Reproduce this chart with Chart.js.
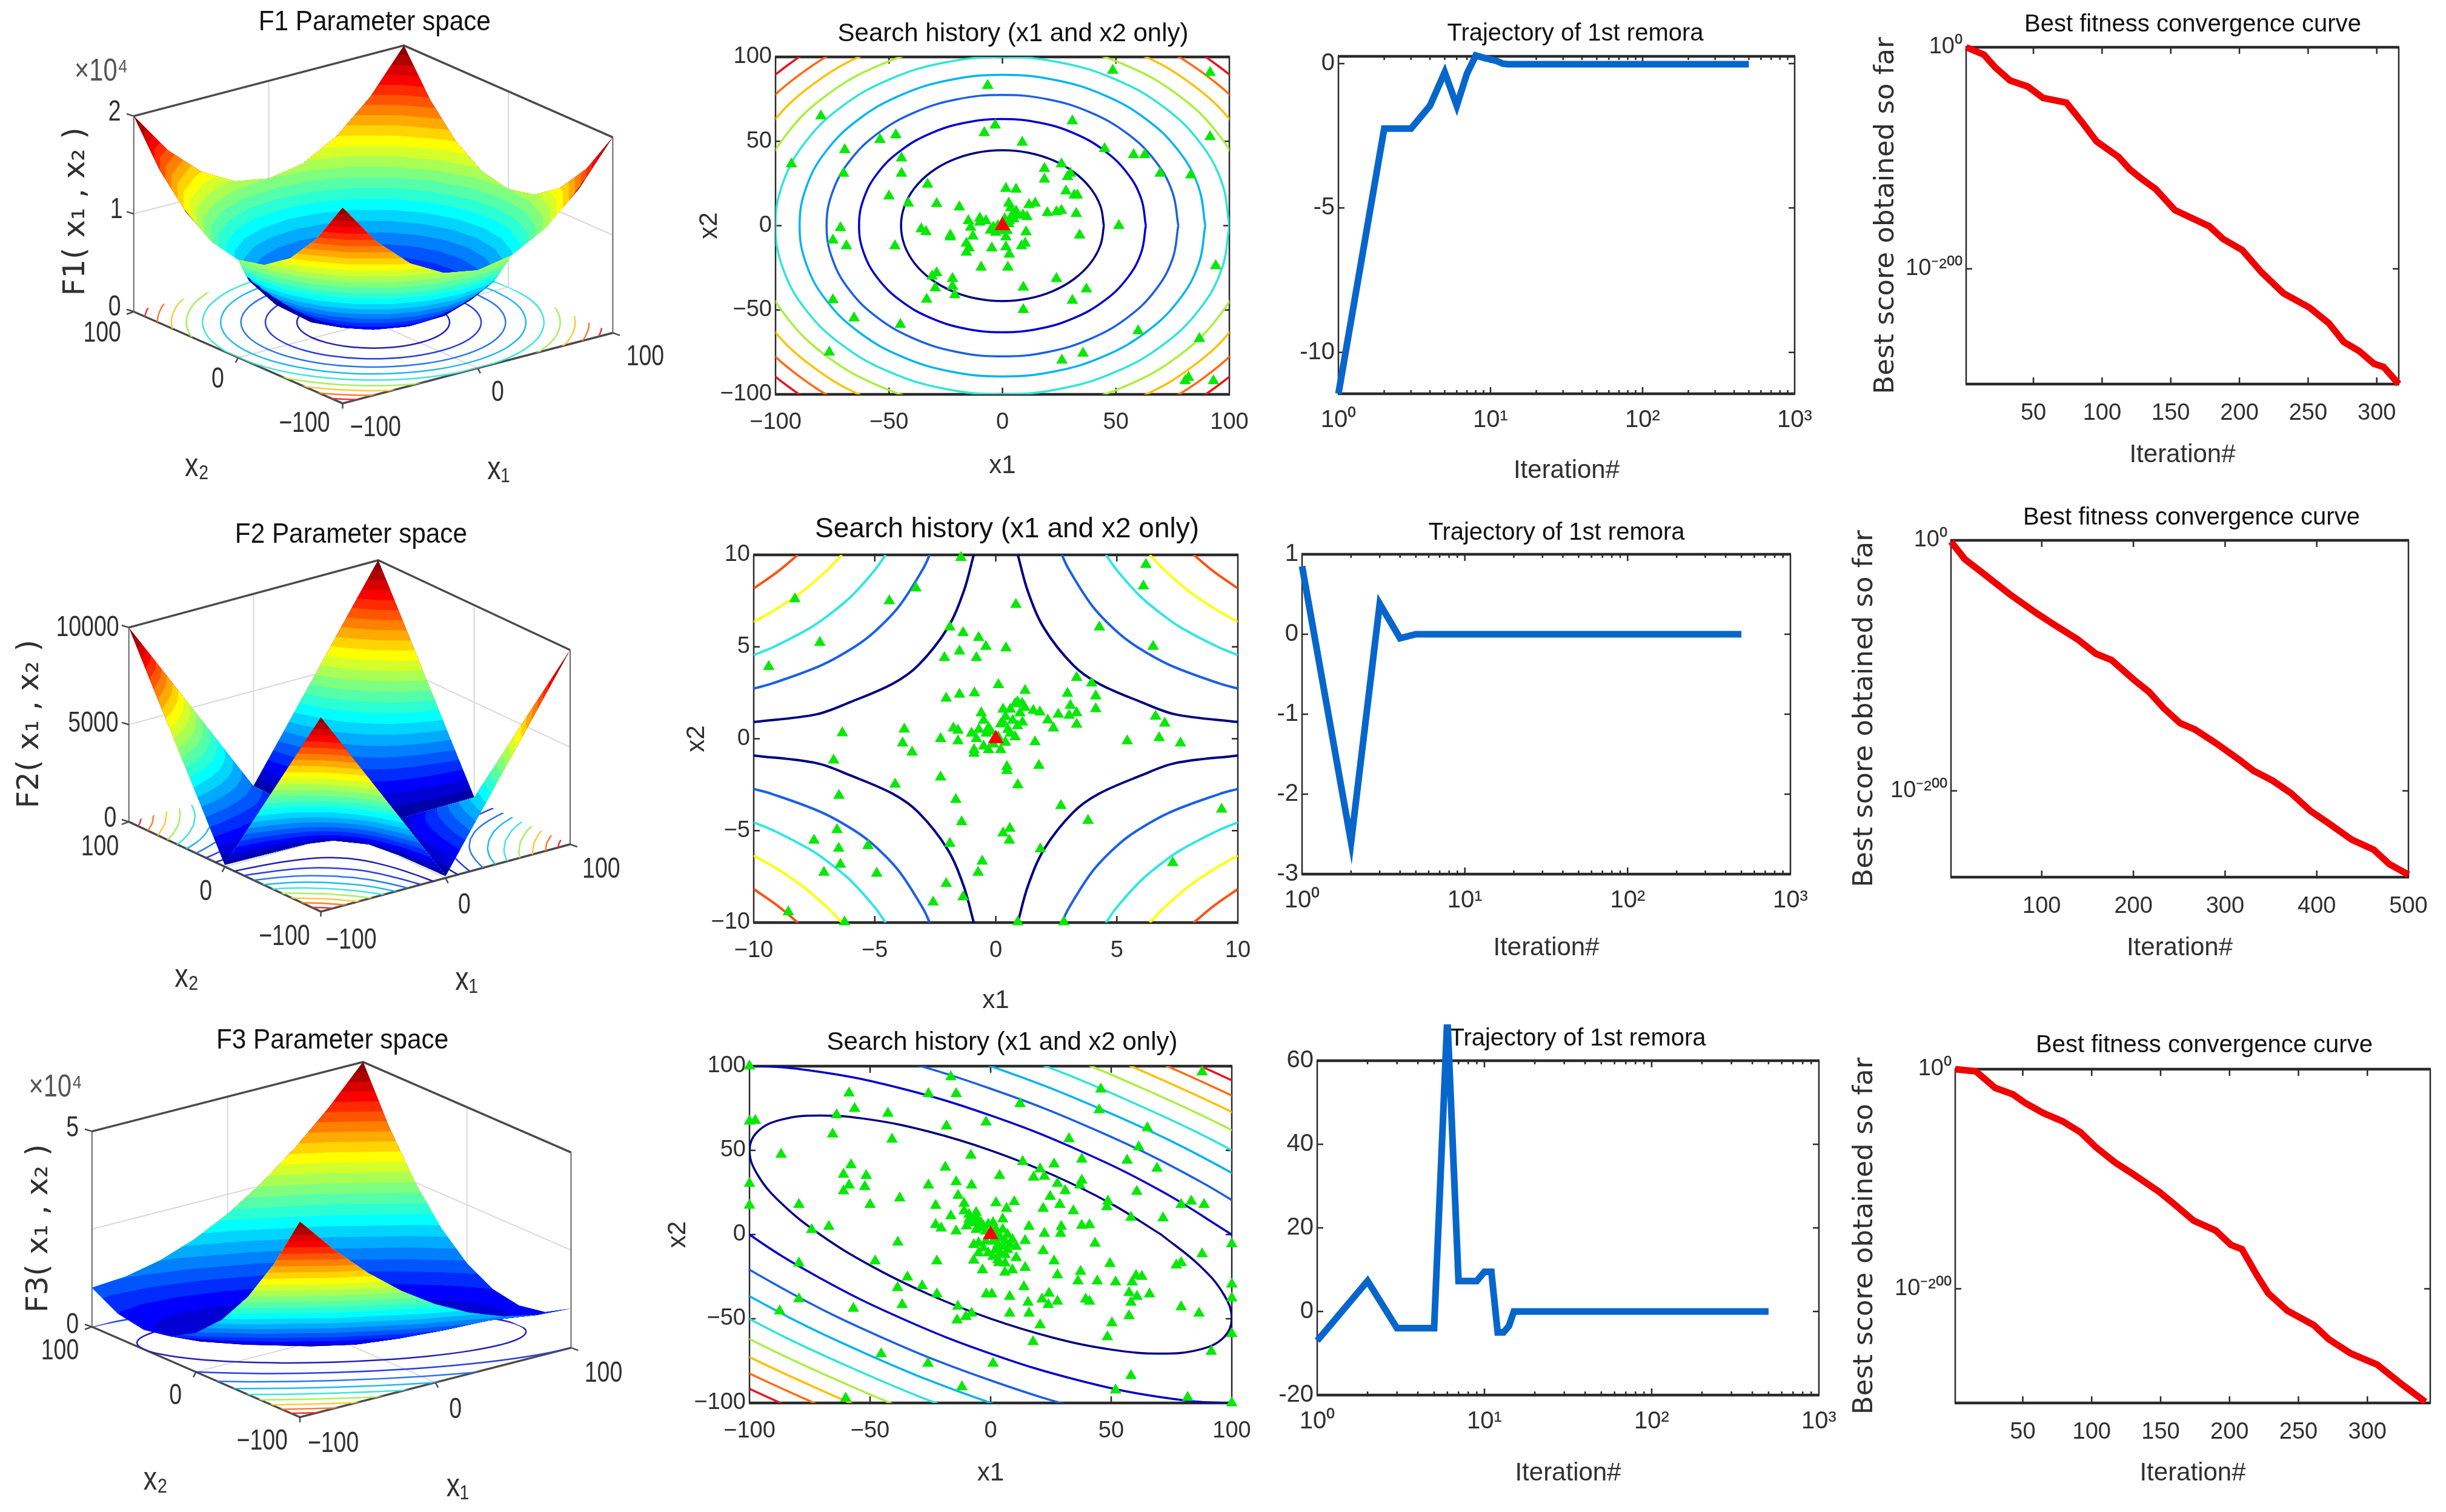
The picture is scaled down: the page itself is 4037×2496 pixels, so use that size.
<!DOCTYPE html>
<html>
<head>
<meta charset="utf-8">
<title>Parameter space, search history, trajectory, convergence</title>
<script src="https://cdn.jsdelivr.net/npm/chart.js@4/dist/chart.umd.js"></script>
<style>
html, body { margin: 0; padding: 0; background: #fff; overflow: hidden; width: 4037px; height: 2496px; }
canvas { position: absolute; }
</style>
</head>
<body>
<script>
// ---------- values ----------

// colour bands of the surfaces, highest level first
const jetBands = ['#8c0000','#b00000','#d80000','#fb0000','#ff2a00','#ff5500','#ff7f00','#ffaa00','#ffd400','#ffff00','#d4ff2b','#aaff55','#7fff80','#55ffaa','#2bffd4','#00ffff','#00d4ff','#00aaff','#007fff','#0055ff','#002bff','#0000ff','#0000d4','#0000aa'];
const contourColors = ['#000080','#0000cd','#1a5fe6','#00b4f0','#2ee6d6','#a8f03c','#ffc000','#ff6a10','#e8141c'];
const f2ContourColors = ['#000080','#1a5fe6','#2ee6e6','#ffff00','#ff5014'];
const floorColors = ['#2020b0','#2a3fe0','#2a78ea','#20b8f0','#40e6d6','#a8f05c','#ffc83c','#ff7a30','#e8343c'];

// one turn, every 15 degrees
const ringA = [1,.966,.866,.707,.5,.259,0,-.259,-.5,-.707,-.866,-.966,-1,-.966,-.866,-.707,-.5,-.259,0,.259,.5,.707,.866,.966,1];
const ringB = [0,.259,.5,.707,.866,.966,1,.966,.866,.707,.5,.259,0,-.259,-.5,-.707,-.866,-.966,-1,-.966,-.866,-.707,-.5,-.259,0];
// branch used for the F2 level curves
const arcU = [10,6,4,3,2.2,1.7,1.4,1.2,1.08,1,.93,.83,.71,.59,.45,.33,.25,.17,.1];
const arcV = [.1,.17,.25,.33,.45,.59,.71,.83,.93,1,1.08,1.2,1.4,1.7,2.2,3,4,6,10];

const f1BandZ = [20000,19167,18333,17500,16667,15833,15000,14167,13333,12500,11667,10833,10000,9167,8333,7500,6667,5833,5000,4167,3333,2500,1667,833];
const f1BandR = [141.4,138.4,135.4,132.3,129.1,125.8,122.5,119,115.5,111.8,108,104.1,100,95.7,91.3,86.6,81.6,76.4,70.7,64.5,57.7,50,40.8,28.9];
const f2BandZ = [10000,9583,9167,8750,8333,7917,7500,7083,6667,6250,5833,5417,5000,4583,4167,3750,3333,2917,2500,2083,1667,1250,833,417];
const f2BandS = [100,97.9,95.7,93.5,91.3,89,86.6,84.2,81.6,79.1,76.4,73.6,70.7,67.7,64.5,61.2,57.7,54,50,45.6,40.8,35.4,28.9,20.4];
const f3BandZ = [50000,47917,45833,43750,41667,39583,37500,35417,33333,31250,29167,27083,25000,22917,20833,18750,16667,14583,12500,10417,8333,6250,4167,2083];
const f3BandR = [223.6,218.9,214,209.2,204.1,198.9,193.6,188.2,182.6,176.8,170.8,164.6,158.1,151.4,144.3,136.9,129.1,120.8,111.8,102.1,91.3,79.1,64.5,45.6];

const f1ContourR = [44.7,63.2,77.5,89.4,100,109.5,118.3,126.5,134.2];
const f2FloorS = [31.6,44.7,54.8,63.2,70.7,77.5,83.7,89.4,94.9];
const f3ContourR = [70.7,100,122.5,141.4,158.1,173.2,187.1,200,212.1];

// surface heights along the box edges
const rimT = [-100,-75,-50,-25,0,25,50,75,100];
const f1RimZ = [20000,15625,12500,10625,10000,10625,12500,15625,20000];
const f3RimX2Top = [10000,10625,12500,15625,20000,25625,32500,40625,50000];
const f3RimX1Top = [10000,6250,5000,6250,10000,16250,25000,36250,50000];
const f3RimX1Low = [50000,36250,25000,16250,10000,6250,5000,6250,10000];
const f3RimX2Low = [50000,40625,32500,25625,20000,15625,12500,10625,10000];

// F2 contour lines in the search plot, one quadrant, level by level
const f2LevelX1 = [
  [.91,1.33,2,3.2,4.25,6,7.4,10],
  [2.73,3,4,5,5.83,7.2,9.25,10],
  [4.55,5,6,7,7.71,9.17,10],
  [6.36,7,8,9.13,10],
  [8.18,9,10]
];
const f2LevelX2 = [
  [10,8,6,4,3,2,1.33,.91],
  [10,9.25,7.2,5.83,5,4,3,2.73],
  [10,9.17,7.71,6.63,6,5,4.55],
  [10,9.13,8,7,6.36],
  [10,9.1,8.18]
];

const searchF1 = [[48.6,92],[91.5,90.7],[-6.5,83],[-80,65],[30.8,62],[-3.2,59.5],[-8,55],[91.5,52.7],[-47,53.8],[-54,51],[8.7,49.4],[-69.5,45],[45,45.6],[57.8,42],[62.7,42],[-44.5,40],[-93,36.5],[26,36.5],[18.5,33.8],[-70,31],[-44.5,31],[69.5,31],[30,31],[28.7,29],[83,30],[18.5,27.5],[-33,24.5],[1.5,22],[6,21.5],[28,20.5],[31.6,18],[33,18],[-50,17.5],[-41.5,13.3],[-29,13],[-19,11],[2.8,13.3],[14.4,13.3],[11.7,12.4],[3.6,10.5],[6,8.5],[19.8,7.6],[26,9],[23.8,8.2],[32.5,7.2],[10.8,5.3],[9,6.3],[4.4,6.6],[-15,2.9],[-10,4.4],[-7.3,2.9],[-14,-1],[-10,2],[-5.3,-2.8],[1,-1.9],[2.8,1],[51.3,0],[-71.4,-1.3],[-35.8,-2],[-33.7,-3.6],[-23,-5.7],[-23,-6.7],[-13,-6.3],[1.5,-6.7],[10.4,-3.8],[34,-5.7],[-74.7,-8.6],[-68.8,-12],[-47.4,-12],[-15.9,-10.5],[-14.7,-13.3],[-4.7,-13.3],[1.5,-12.7],[8.4,-12],[10,-10.5],[-15.9,-15.8],[3,-17],[94,-23.8],[-9.4,-24.7],[2.4,-24.7],[-29,-28],[-31,-30],[-22,-31.4],[-22,-36],[23.8,-31.4],[-29.6,-37],[9.2,-36.5],[37,-37.6],[-21,-41],[-33.4,-43.7],[-74.7,-44],[30.8,-44.3],[9.2,-49.8],[-65.4,-54.8],[-45,-58.6],[59.8,-62.4],[86.8,-67],[-76.3,-75],[35.5,-75.7],[26.2,-79.8],[82,-90],[80.5,-92],[93,-92],[-3,-4],[-1,-3],[2,-3],[3,3],[5,4],[7,6],[-2,0],[-4,-1],[1,4]];

const searchF2 = [[-1.44,9.85],[6.2,9.47],[6.1,8.3],[-3.3,8.2],[-8.3,7.6],[-4.4,7.5],[.83,7.3],[4.28,6.07],[-1.9,6.07],[-1.35,5.77],[-.71,5.5],[-7.27,5.23],[-.41,5.02],[6.5,5.02],[.42,4.93],[-1.5,4.76],[-2.12,4.41],[-.8,4.41],[-9.38,3.92],[3.34,3.33],[3.96,3.02],[.11,2.93],[1.21,2.62],[-.88,2.49],[-1.5,2.41],[2.96,2.46],[4.13,2.32],[-2.05,2.2],[3.08,1.8],[1.09,1.92],[4.13,1.62],[1.55,1.53],[1.82,1.45],[2.58,1.33],[3.34,1.41],[3.03,1.27],[6.6,1.22],[2.15,1.01],[3.34,.78],[6.98,.84],[2.38,.58],[-3.78,.52],[-6.34,.31],[-1.75,.58],[-1.56,.45],[-2.28,0],[-1.56,-.12],[6.75,.05],[5.43,-.12],[7.63,-.24],[-3.85,-.24],[1.62,-.17],[-3.46,-.73],[-6.7,-1.17],[1.78,-1.46],[.46,-1.52],[.46,-1.74],[-2.28,-2.09],[.91,-2.51],[-4.16,-2.48],[-6.48,-3.09],[-1.65,-3.31],[2.69,-3.64],[9.33,-3.84],[-1.41,-4.52],[3.81,-4.45],[.58,-4.88],[.3,-5.13],[-6.56,-4.95],[-7.51,-5.53],[.56,-5.53],[-1.9,-5.7],[-5.28,-5.82],[-6.49,-5.96],[1.84,-6],[7.31,-6.75],[-.56,-6.66],[-6.42,-6.84],[-7.1,-7.27],[-4.92,-7.32],[-.73,-7.27],[-2.05,-7.88],[-1.35,-8.61],[-2.59,-8.89],[-8.57,-9.42],[-6.25,-9.97],[.91,-9.97],[2.81,-9.97],[.2,.8],[.4,1.2],[.6,1.6],[.8,1.9],[1,1.4],[.5,.5],[.7,1],[.9,.7],[1.1,.9],[.3,1.6],[-.3,.6],[-.5,1],[-.6,1.4],[-.4,.3],[-.2,.4],[.1,.1],[-.7,.5],[-1,.3],[-.8,0],[-.5,-.4],[-.9,-.6],[-.3,-.6],[.2,-.6],[.4,-.2],[-.1,-.3],[.8,.1],[.3,.9],[.6,.3],[1.2,1.7],[.9,2],[-.9,-.8]];

const searchF3 = [[-100,100],[-16.5,93.6],[87.7,96.5],[45.7,86.3],[-58.7,84],[-25.8,83.6],[-14.3,83.6],[12.2,77.7],[-56.4,74.8],[45,74],[-63.9,71],[-42.6,71.9],[-100,67.3],[-97.6,67.7],[-1.9,66.7],[-18.3,64.4],[65,63.3],[-65.5,59.6],[-40.9,56.6],[32.5,56.8],[61.4,52],[-86.9,47.6],[-8.2,47],[13.3,43.3],[37.8,44.7],[56.6,44.1],[-57.9,41.4],[-18.8,39.9],[20.5,38.9],[26.3,41.8],[69,39.3],[-61,35.7],[-51.6,35],[3.7,35],[17.8,34],[22.3,34.5],[37.8,32.2],[-100,30.3],[-14.3,31.3],[-25.8,29.3],[-7.9,29.3],[27.7,30.3],[-58.7,29.3],[-52.2,28.4],[37,29.3],[-61,25.9],[30.9,26],[60.6,25.5],[-13.5,23.2],[24.7,22.6],[-37.7,21.7],[48.6,19.8],[83.2,19.8],[-100,17.4],[-79.5,17.8],[-50,17.8],[-22.8,17.3],[-11,18.4],[2.2,18.8],[9.8,19.4],[28.7,17.8],[79,17.8],[88.5,17.8],[48.2,16.5],[21.8,15.5],[6.6,15.5],[34.3,14],[-16.5,11.1],[58.2,10.2],[71.5,9.8],[5,9.2],[-22.8,5.9],[-67.1,4.8],[-74.2,2.9],[-20.5,3.8],[-14.3,2.1],[15.9,4.8],[29.3,4.8],[37.8,5.4],[41,5.8],[22.3,.6],[29,.6],[100,-5.6],[-38.5,-4.6],[14.3,-3.6],[43.3,-5.2],[21.8,-9.6],[87.7,-11.5],[10.6,-7.1],[10.6,-13.8],[-7,-15.3],[-22.3,-15.7],[-47.9,-15.7],[-79.5,-17],[26.3,-15.7],[49.5,-17.3],[77,-18.2],[79,-16.7],[3.4,-16.7],[14.3,-19.6],[9,-21],[-3.4,-21],[5.9,-22.4],[27.7,-24],[37.3,-21.9],[-34.5,-25.3],[60.3,-24.4],[62.7,-24.9],[36.2,-27.6],[44.2,-27.6],[51.8,-28.2],[58.7,-28.2],[-28.4,-30.5],[-38.6,-31.6],[13.8,-31],[100,-29.5],[57.4,-34.5],[65.9,-35.3],[-1.8,-35.3],[.5,-35.3],[-22.3,-35.3],[7.9,-36.8],[24.2,-34.9],[21.3,-38.4],[27.7,-39.7],[39.4,-38.4],[41,-39.7],[60.7,-36.8],[100,-37.8],[-79.5,-38.2],[15.5,-40.3],[58.2,-40.3],[23.9,-41.6],[-36.7,-41.6],[-13.6,-42.6],[-56.9,-43.9],[79,-43],[-87.5,-45.4],[-7.9,-46.8],[7.9,-46.8],[15.9,-46.8],[-10.3,-48.7],[57.4,-48.3],[86.4,-46.8],[-13.9,-50.8],[50.3,-52.5],[20.5,-53.7],[100,-58.9],[48.4,-60.8],[17.6,-63.7],[91.5,-69.4],[-45.4,-70.9],[-26,-76.5],[1,-76.5],[58.2,-83.8],[-11.9,-90.5],[51.8,-92.4],[-60.1,-97.2],[81.7,-96.8],[100,-100],[-7,10],[-6,9],[-5,8],[-4,7],[-8,7],[-9,12],[-6,13],[-3,5],[-4,4],[-6,3],[-2,2],[2,3],[3,1],[4,-2],[1,-4],[3,-6],[5,-7],[6,-4],[7,-9],[2,-9],[4,-11],[-2,-4],[-3,-8],[-5,-11],[-1,-11],[1,-13],[6,-12],[8,-6],[9,-3],[7,0],[5,3],[-1,6],[1,7],[-9,9],[-11,14],[-10,5],[-7,-6],[-5,-5],[3,-15],[6,-17]];

const trajF1Iter = [1,2,3,4,5,6,7,8,9,10,11,12,13,15,20,500];
const trajF1Value = [-11.43,-2.25,-2.25,-1.46,-.3,-1.46,-.35,.28,.2,.14,.09,0,-.02,-.02,-.02,-.02];
const trajF2Iter = [1,2,3,4,5,6,8,20,500];
const trajF2Value = [.85,-2.6,.38,-.05,0,0,0,0,0];
const trajF3Iter = [1,2,3,4,5,6,7,8,9,10,11,12,13,14,15,20,500];
const trajF3Value = [-7,7.3,-4,-4,-4,70.5,7.3,7.3,7.3,9.5,9.5,-5,-5,-3.5,0,0,0];

const convF1Iter = [1,14,22,33,46,57,74,85,96,112,120,128,139,153,178,188,202,216,232,251,265,276,287,298,305,316];
const convF1Score = [1,2e-7,1e-18,1e-30,3e-36,2e-46,1e-50,1e-67,1e-85,1e-99,1e-110,1e-118,1e-128,1e-147,3e-162,1e-173,1e-183,1e-203,1e-222,1e-235,1e-249,1e-266,1e-274,2e-286,3e-289,1e-304];
const convF2Iter = [1,16,32,65,94,114,139,159,176,200,217,233,251,267,290,315,331,352,372,393,413,438,462,479,500];
const convF2Score = [1e-1,1e-15,1e-24,1e-43,1e-58,3e-68,1e-79,3e-91,3e-96,1e-111,1e-121,1e-134,1e-146,1e-151,1e-162,1e-175,1e-184,1e-192,1e-202,1e-216,1e-226,1e-239,1e-247,3e-259,1e-267];
const convF3Iter = [1,16,30,43,52,65,79,92,103,117,130,149,160,174,190,201,209,220,228,242,261,272,288,307,326,342];
const convF3Score = [1,1e-2,1e-17,1e-23,1e-31,1e-40,3e-48,3e-58,1e-71,1e-85,3e-96,2e-112,1e-123,1e-138,1e-147,1e-160,1e-164,1e-188,1e-204,1e-220,1e-233,1e-246,1e-259,1e-269,1e-288,1e-303];

const searchF1Ticks = [-100,-50,0,50,100];
const searchF2Ticks = [-10,-5,0,5,10];
const trajXTicks = [1,10,100,1000];
const trajXMinor = [2,3,4,5,6,7,8,9,20,30,40,50,60,70,80,90,200,300,400,500,600,700,800,900];
const trajF1YTicks = [0,-5,-10];
const trajF2YTicks = [1,0,-1,-2,-3];
const trajF3YTicks = [60,40,20,0,-20];
const convYTicks = [1,1e-200];
const convF1XTicks = [50,100,150,200,250,300];
const convF2XTicks = [100,200,300,400,500];

const powerLabels = {1:'10\u2070',10:'10\u00b9',100:'10\u00b2',1000:'10\u00b3'};
const inkColor = '#2a2a2a';
const tickInk = '#303030';
const sansFont = '"Liberation Sans", Arial, sans-serif';
const wideFont = '"DejaVu Sans", sans-serif';

// ---------- small helpers ----------

function addCanvas(left, top, width, height) {
    const canvas = document.createElement('canvas');
    canvas.width = width;
    canvas.height = height;
    canvas.style.left = left + 'px';
    canvas.style.top = top + 'px';
    canvas.style.width = width + 'px';
    canvas.style.height = height + 'px';
    document.body.appendChild(canvas);
    return canvas;
}

function pairsToPoints(pairs) { return pairs.map(p => ({ x: p[0], y: p[1] })); }
function zipPoints(xs, ys) { return xs.map((x, i) => ({ x: x, y: ys[i] })); }

// inward ticks and the box, MATLAB style
function axesFrame(cfg) {
    return {
        id: 'axesFrame',
        afterLayout(chart) {
            if (chart.titleBlock && cfg.titleShift) {
                chart.titleBlock.left += cfg.titleShift;
                chart.titleBlock.right += cfg.titleShift;
            }
        },
        beforeDatasetsDraw(chart) {
            const { left, right, top, bottom } = chart.chartArea;
            const ctx = chart.ctx;
            ctx.save();
            ctx.strokeStyle = inkColor;
            ctx.lineWidth = 2.5;
            ctx.beginPath();
            ctx.moveTo(left, top); ctx.lineTo(left, bottom);
            ctx.moveTo(right, top); ctx.lineTo(right, bottom);
            const sides = (px, len) => {
                ctx.moveTo(px, top); ctx.lineTo(px, top + len);
                ctx.moveTo(px, bottom); ctx.lineTo(px, bottom - len);
            };
            cfg.xTicks.forEach(v => sides(chart.scales.x.getPixelForValue(v), 11));
            (cfg.xMinor || []).forEach(v => sides(chart.scales.x.getPixelForValue(v), 6));
            cfg.yTicks.forEach(v => {
                const py = chart.scales.y.getPixelForValue(v);
                ctx.moveTo(left, py); ctx.lineTo(left + 10, py);
                ctx.moveTo(right, py); ctx.lineTo(right - 10, py);
            });
            ctx.stroke();
            ctx.lineWidth = 4.5;
            ctx.beginPath();
            ctx.moveTo(left - 1, top); ctx.lineTo(right + 1, top);
            ctx.moveTo(left - 1, bottom); ctx.lineTo(right + 1, bottom);
            ctx.stroke();
            ctx.restore();
        }
    };
}

function axesChart(cfg) {
    const box = cfg.box;
    const titleSize = cfg.titleSize || 42;
    const xTitleSize = cfg.xTitleSize || 42;
    const yFont = cfg.yTitleFont || sansFont;
    const ySize = cfg.yTitleSize || 42;
    const canvasLeft = cfg.yTitleX ? Math.round(cfg.yTitleX - 0.6 * ySize) : box[0] - 90;
    const canvasTop = Math.round(cfg.titleY - 0.6 * titleSize);
    const marginLeft = box[0] - canvasLeft;
    const marginTop = box[2] - canvasTop;
    const marginBottom = Math.round(cfg.xTitleY + 0.6 * xTitleSize - box[3]);
    const marginRight = 70;
    const width = marginLeft + (box[1] - box[0]) + marginRight;
    const height = marginTop + (box[3] - box[2]) + marginBottom;
    const canvas = addCanvas(canvasLeft, canvasTop, width, height);
    const titleShift = cfg.titleX - (canvasLeft + (width - marginRight) / 2);
    const tickFont = { family: sansFont, size: cfg.tickSize || 38 };
    const scaleBase = (ticks, label, pad) => ({
        afterBuildTicks: s => { s.ticks = ticks.map(v => ({ value: v })); },
        grid: { display: false, drawTicks: false },
        border: { display: false },
        ticks: { autoSkip: false, maxRotation: 0, minRotation: 0, padding: pad, font: tickFont, color: tickInk, callback: label }
    });
    const xScale = Object.assign(scaleBase(cfg.xTicks, cfg.xLabel, cfg.xPad || 24), {
        type: cfg.xType || 'linear', min: cfg.xRange[0], max: cfg.xRange[1],
        afterFit: s => { s.height = marginBottom; },
        title: { display: true, text: cfg.xTitle, color: tickInk, padding: 0, font: { family: sansFont, size: xTitleSize } }
    });
    const yScale = Object.assign(scaleBase(cfg.yTicks, cfg.yLabel, cfg.yPad || 6), {
        type: cfg.yType || 'linear', min: cfg.yRange[0], max: cfg.yRange[1],
        afterFit: s => { s.width = marginLeft; }
    });
    if (cfg.yTitle) {
        yScale.title = { display: true, text: cfg.yTitle, color: tickInk, padding: 0, font: { family: yFont, size: ySize } };
    }
    return new Chart(canvas, {
        type: 'scatter',
        data: { datasets: cfg.datasets },
        options: {
            responsive: false,
            animation: false,
            devicePixelRatio: 1,
            layout: { padding: { left: 0, right: marginRight, top: 0, bottom: 0 } },
            plugins: {
                legend: { display: false },
                tooltip: { enabled: false },
                title: {
                    display: true, text: cfg.title, color: '#111',
                    font: { family: sansFont, size: titleSize, weight: 'normal' },
                    padding: { top: 0, bottom: marginTop - 1.2 * titleSize }
                }
            },
            scales: { x: xScale, y: yScale }
        },
        plugins: [axesFrame({ xTicks: cfg.xTicks, yTicks: cfg.yTicks, xMinor: cfg.xMinor, titleShift: titleShift })]
    });
}

// ---------- search history column ----------

function searchLabel(v) { return String(v).replace('-', '\u2212'); }

function markerSets(points) {
    return [
        { data: [{ x: 0, y: 0 }], showLine: false, pointStyle: 'triangle', pointRadius: 15, pointBackgroundColor: '#ff0000', pointBorderWidth: 0, clip: false },
        { data: pairsToPoints(points), showLine: false, pointStyle: 'triangle', pointRadius: 11, pointBackgroundColor: '#08e808', pointBorderWidth: 0, clip: false }
    ];
}
function contourLine(points, color, width, tension) {
    return { data: points, showLine: true, pointRadius: 0, borderColor: color, borderWidth: width, tension: tension || 0, capBezierPoints: false };
}

const searchF1Sets = markerSets(searchF1).concat(f1ContourR.map((r, i) =>
    contourLine(ringA.map((a, k) => ({ x: r * a, y: r * ringB[k] })), contourColors[i], 3.5, 0.4)));

const quadrants = [[1, 1], [-1, 1], [-1, -1], [1, -1]];
const searchF2Sets = markerSets(searchF2);
f2LevelX1.forEach((xs, level) => {
    quadrants.forEach(q => {
        const pts = xs.map((x, i) => ({ x: q[0] * x, y: q[1] * f2LevelX2[level][i] }));
        searchF2Sets.push(contourLine(pts, f2ContourColors[level], 4, 0.35));
    });
});

const searchF3Sets = markerSets(searchF3).concat(f3ContourR.map((r, i) =>
    contourLine(ringA.map((a, k) => ({ x: r * (a - ringB[k]), y: r * ringB[k] })), contourColors[i], 3.5, 0.4)));

axesChart({ box: [1280, 2029, 94, 651], title: 'Search history (x1 and x2 only)', titleX: 1672, titleY: 56, xTitle: 'x1', xTitleY: 770, yTitle: 'x2', yTitleX: 1171,
    xRange: [-100, 100], yRange: [-100, 100], xTicks: searchF1Ticks, yTicks: searchF1Ticks, xLabel: searchLabel, yLabel: searchLabel, datasets: searchF1Sets });
axesChart({ box: [1244, 2043, 916, 1523], title: 'Search history (x1 and x2 only)', titleX: 1662, titleY: 875, xTitle: 'x1', xTitleY: 1653, yTitle: 'x2', yTitleX: 1150,
    xRange: [-10, 10], yRange: [-10, 10], xTicks: searchF2Ticks, yTicks: searchF2Ticks, xLabel: searchLabel, yLabel: searchLabel, datasets: searchF2Sets, titleSize: 46 });
axesChart({ box: [1237, 2033, 1760, 2316], title: 'Search history (x1 and x2 only)', titleX: 1654, titleY: 1721, xTitle: 'x1', xTitleY: 2433, yTitle: 'x2', yTitleX: 1119,
    xRange: [-100, 100], yRange: [-100, 100], xTicks: searchF1Ticks, yTicks: searchF1Ticks, xLabel: searchLabel, yLabel: searchLabel, datasets: searchF3Sets });

// ---------- trajectory column ----------

function trajSet(iter, value) {
    return [{ data: zipPoints(iter, value), showLine: true, pointRadius: 0, borderColor: '#0766cc', borderWidth: 11, clip: false }];
}
function trajChart(box, titleX, titleY, xTitleY, yRange, yTicks, iter, value) {
    axesChart({ box: box, title: 'Trajectory of 1st remora', titleX: titleX, titleY: titleY, xTitle: 'Iteration#', xTitleY: xTitleY, titleSize: 40,
        xType: 'logarithmic', xRange: [1, 1000], yRange: yRange, xTicks: trajXTicks, xMinor: trajXMinor, yTicks: yTicks, xPad: 20, tickSize: 40,
        xLabel: v => powerLabels[v], yLabel: v => String(v), datasets: trajSet(iter, value) });
}
trajChart([2209, 2962, 93, 650], 2600, 56, 778, [-11.43, 0.25], trajF1YTicks, trajF1Iter, trajF1Value);
trajChart([2149, 2955, 915, 1443], 2569, 880, 1566, [-3, 1], trajF2YTicks, trajF2Iter, trajF2Value);
trajChart([2174, 3002, 1751, 2303], 2604, 1715, 2433, [-20, 60], trajF3YTicks, trajF3Iter, trajF3Value);

// ---------- convergence column ----------

function convChart(box, titleX, titleY, xTitleY, yTitleX, xMax, xMin, yMin, xTicks, iter, score) {
    axesChart({ box: box, title: 'Best fitness convergence curve', titleX: titleX, titleY: titleY, xTitle: 'Iteration#', xTitleY: xTitleY, titleSize: 40,
        yTitle: 'Best score obtained so far', yTitleX: yTitleX, yTitleFont: wideFont, yTitleSize: 45,
        yType: 'logarithmic', xRange: [xMin, xMax], yRange: [yMin, 1], xTicks: xTicks, yTicks: convYTicks, yPad: 0, xPad: 26,
        xLabel: v => String(v), yLabel: v => (v === 1 ? '10\u2070' : '10\u207b\u00b2\u2070\u2070'),
        datasets: [{ data: zipPoints(iter, score), showLine: true, pointRadius: 0, borderColor: '#f00000', borderWidth: 11, clip: false }] });
}
convChart([3245, 3959, 78, 634], 3619, 41, 752, 3113, 316, 1, 1e-304, convF1XTicks, convF1Iter, convF1Score);
convChart([3220, 3975, 892, 1448], 3617, 855, 1566, 3078, 500, 1, 1e-269, convF2XTicks, convF2Iter, convF2Score);
convChart([3227, 4011, 1765, 2316], 3638, 1726, 2433, 3078, 345.6, 1, 1e-304, convF1XTicks, convF3Iter, convF3Score);

// ---------- parameter space column (3D view on a flat view plane) ----------

function project(view, x1, x2, z) {
    return {
        x: view.cx + view.e1[0] * x1 / 100 + view.e2[0] * x2 / 100,
        y: view.cy + view.e1[1] * x1 / 100 + view.e2[1] * x2 / 100 - view.zScale * z
    };
}

// paints a filled outline, clipped to a region; tied to the dataset so that it keeps paint order
const surfacePaint = {
    id: 'surfacePaint',
    beforeDatasetDraw(chart, args) {
        const ds = chart.data.datasets[args.index];
        if (!ds.clipPoly && !ds.areaFill) return;
        const ctx = chart.ctx;
        const sx = chart.scales.x, sy = chart.scales.y;
        ctx.save();
        if (ds.clipPoly) {
            ctx.beginPath();
            ds.clipPoly.forEach((p, i) => {
                const px = sx.getPixelForValue(p.x), py = sy.getPixelForValue(p.y);
                if (i === 0) ctx.moveTo(px, py); else ctx.lineTo(px, py);
            });
            ctx.closePath();
            ctx.clip();
        }
        if (ds.areaFill) {
            ctx.beginPath();
            args.meta.dataset.path(ctx);
            ctx.closePath();
            ctx.fillStyle = ds.areaFill;
            ctx.fill();
        }
    },
    afterDatasetDraw(chart, args) {
        const ds = chart.data.datasets[args.index];
        if (ds.clipPoly || ds.areaFill) chart.ctx.restore();
    }
};

function viewText(items) {
    return {
        id: 'viewText',
        afterDatasetsDraw(chart) {
            const ctx = chart.ctx;
            items.forEach(it => {
                ctx.save();
                ctx.translate(chart.scales.x.getPixelForValue(it.x), chart.scales.y.getPixelForValue(it.y));
                if (it.rot) ctx.rotate(it.rot);
                ctx.scale(it.sx || 1, 1);
                ctx.font = it.size + 'px ' + (it.family || sansFont);
                ctx.fillStyle = it.color || tickInk;
                ctx.textAlign = 'center';
                ctx.textBaseline = 'middle';
                ctx.fillText(it.text, 0, 0);
                ctx.restore();
            });
        }
    };
}

function area(points, color, clipPoly) {
    return { data: points, showLine: true, pointRadius: 0, borderColor: color, borderWidth: 1, areaFill: color, clipPoly: clipPoly, clip: false };
}
function stroke(points, color, width, clipPoly, tension) {
    return { data: points, showLine: true, pointRadius: 0, borderColor: color, borderWidth: width, clipPoly: clipPoly, clip: false, tension: tension || 0, capBezierPoints: false };
}

function wallsAndFloor(view, zMax, zTicks) {
    const p = (a, b, c) => project(view, a, b, c);
    const grid = '#d9d9d9', edge = '#4a4a4a';
    const list = [
        stroke([p(0, 100, 0), p(0, 100, zMax)], grid, 2),
        stroke([p(100, 0, 0), p(100, 0, zMax)], grid, 2),
        stroke([p(-100, 100, zMax / 2), p(100, 100, zMax / 2), p(100, -100, zMax / 2)], grid, 2),
        stroke([p(0, -100, 0), p(0, 100, 0)], grid, 2),
        stroke([p(-100, 0, 0), p(100, 0, 0)], grid, 2),
        stroke([p(-100, 100, 0), p(-100, 100, zMax)], '#666', 2),
        stroke([p(100, -100, 0), p(100, -100, zMax)], '#666', 2),
        stroke([p(-100, 100, zMax), p(100, 100, zMax), p(100, -100, zMax)], edge, 3.5),
        stroke([p(-100, 100, 0), p(-100, -100, 0), p(100, -100, 0)], edge, 3.5)
    ];
    zTicks.forEach(z => {
        const a = p(-100, 100, z);
        list.push(stroke([a, { x: a.x - 16, y: a.y - 7 }], edge, 2.5));
    });
    [[0, -100, 6, 16], [-100, 0, -6, 16], [-100, -100, 0, 16], [100, -100, 16, 8], [-100, 100, -16, 8]].forEach(t => {
        const a = p(t[0], t[1], 0);
        list.push(stroke([a, { x: a.x + t[2], y: a.y + t[3] }], edge, 2.5));
    });
    return list;
}

function floorPoly(view) {
    return [project(view, -100, 100, 0), project(view, -100, -100, 0), project(view, 100, -100, 0), project(view, 100, 100, 0)];
}

// far wall seen from inside, then the near wall seen from outside
function bowlBands(view, ring, bandZ, bandR, farPoly, nearPoly) {
    const at = (r, z) => ringA.map((a, k) => {
        const q = ring(a, ringB[k]);
        return project(view, r * q[0], r * q[1], z);
    });
    const list = [area(farPoly, jetBands[0], farPoly)];
    bandZ.forEach((z, k) => list.push(area(at(bandR[k], z), jetBands[k], farPoly)));
    list.push(area(nearPoly, jetBands[jetBands.length - 1], nearPoly));
    for (let k = bandZ.length - 1; k >= 1; k--) {
        list.push(area(at(bandR[k], bandZ[k]), jetBands[k - 1], nearPoly));
    }
    return list;
}

function edge(view, fixed, isX1, zs, from, to) {
    // points of one box edge of the surface, rimT[from..to] in the listed direction
    const out = [];
    const step = from <= to ? 1 : -1;
    for (let i = from; step > 0 ? i <= to : i >= to; i += step) {
        out.push(isX1 ? project(view, fixed, rimT[i], zs[i]) : project(view, rimT[i], fixed, zs[i]));
    }
    return out;
}

function spacePanel(canvasTop, canvasHeight, list, items) {
    const canvas = addCanvas(0, canvasTop, 1150, canvasHeight);
    // earlier datasets paint on top, so the list is handed over reversed
    new Chart(canvas, {
        type: 'scatter',
        data: { datasets: list.slice().reverse() },
        options: {
            responsive: false, animation: false, devicePixelRatio: 1,
            layout: { padding: 0 },
            plugins: { legend: { display: false }, tooltip: { enabled: false } },
            scales: {
                x: { type: 'linear', display: false, min: 0, max: 1568 },
                y: { type: 'linear', display: false, min: 0, max: 1568, reverse: true }
            }
        },
        plugins: [surfacePaint, viewText(items)]
    });
}

function spaceLabels(title, titleAt, zLabel, zLabelAt, zTicks, x2Ticks, x1Ticks, x2At, x1At, mult) {
    const digits = { size: 48, sx: 0.78 };
    const items = [
        { text: title, x: titleAt[0], y: titleAt[1], size: 47, sx: 0.9, color: '#111' },
        { text: zLabel, x: zLabelAt[0], y: zLabelAt[1], size: 50, rot: -Math.PI / 2, family: wideFont },
        { text: 'x\u2082', x: x2At[0], y: x2At[1], size: 56, sx: 0.8 },
        { text: 'x\u2081', x: x1At[0], y: x1At[1], size: 56, sx: 0.8 }
    ];
    zTicks.concat(x2Ticks, x1Ticks).forEach(t => items.push(Object.assign({ text: t[0], x: t[1], y: t[2] }, digits)));
    if (mult) items.push({ text: '\u00d710\u2074', x: mult[0], y: mult[1], size: 52, sx: 0.8, color: '#555' });
    return items;
}

// F1
const f1View = { cx: 840, cy: 1005, e1: [304, -110], e2: [-235, -143], zScale: 610 / 20000 };
const f1Under = [{ x: 1110, y: 880 }, { x: 1060, y: 935 }, { x: 1000, y: 985 }, { x: 920, y: 1018 }, { x: 840, y: 1028 }, { x: 770, y: 1022 }, { x: 700, y: 1005 }, { x: 620, y: 950 }, { x: 560, y: 875 }];
const f1Far = [].concat(edge(f1View, 100, false, f1RimZ, 0, 8), edge(f1View, 100, true, f1RimZ, 7, 0), edge(f1View, -100, false, f1RimZ, 7, 5), f1Under, edge(f1View, -100, true, f1RimZ, 4, 8));
const f1Near = [].concat(edge(f1View, -100, true, f1RimZ, 0, 4), f1Under.slice().reverse(), edge(f1View, -100, false, f1RimZ, 5, 1));
const f1Floor = floorPoly(f1View);
spacePanel(0, 830, [].concat(
    wallsAndFloor(f1View, 20000, [0, 10000, 20000]),
    f1ContourR.map((r, i) => stroke(ringA.map((a, k) => project(f1View, r * a, r * ringB[k], 0)), floorColors[i], 2.5, f1Floor, 0.4)),
    bowlBands(f1View, (a, b) => [a, b], f1BandZ, f1BandR, f1Far, f1Near)
), spaceLabels('F1 Parameter space', [843, 70], 'F1( x\u2081 , x\u2082 )', [172, 660],
    [['2', 258, 350], ['1', 262, 655], ['0', 258, 960]],
    [['100', 230, 1040], ['0', 490, 1185], ['\u2212100', 685, 1322]],
    [['\u2212100', 845, 1335], ['0', 1120, 1225], ['100', 1452, 1115]],
    [443, 1455], [1122, 1465], [228, 225]));

// F2
const f2View = { cx: 786.5, cy: 1030, e1: [280.5, -105], e2: [-216, -140], zScale: 606 / 10000 };

// level curve of one quadrant, cut where it leaves the box
function f2Arc(s, z, sign1, sign2) {
    const pts = [];
    let prev = null;
    arcU.forEach((u, i) => {
        const a = Math.max(s * u - 1, 0), b = Math.max(s * arcV[i] - 1, 0);
        const inside = a <= 100 && b <= 100;
        if (prev && prev.inside !== inside) {
            const t = (a > 100 || prev.a > 100) ? (100 - prev.a) / (a - prev.a) : (100 - prev.b) / (b - prev.b);
            pts.push(project(f2View, sign1 * (prev.a + t * (a - prev.a)), sign2 * (prev.b + t * (b - prev.b)), z));
        }
        if (inside) pts.push(project(f2View, sign1 * a, sign2 * b, z));
        prev = { a: a, b: b, inside: inside };
    });
    return pts;
}
function f2Wedge(sign1, sign2, side, poly) {
    const list = [area(poly, jetBands[0], poly)];
    f2BandS.forEach((s, k) => {
        const pts = f2Arc(s, f2BandZ[k], sign1, sign2);
        const first = pts[0], last = pts[pts.length - 1];
        if (side === 'below') {
            if (first.x < last.x) pts.push({ x: 3000, y: last.y }, { x: 3000, y: 3000 }, { x: -3000, y: 3000 }, { x: -3000, y: first.y });
            else pts.push({ x: -3000, y: last.y }, { x: -3000, y: 3000 }, { x: 3000, y: 3000 }, { x: 3000, y: first.y });
        }
        if (side === 'right') pts.push({ x: 3000, y: last.y }, { x: 3000, y: 3000 }, { x: first.x, y: 3000 });
        if (side === 'left') pts.push({ x: last.x, y: 3000 }, { x: -3000, y: 3000 }, { x: -3000, y: first.y });
        list.push(area(pts, jetBands[k], poly));
    });
    return list;
}
const f2P = (a, b, c) => project(f2View, a, b, c);
const f2Back = [f2P(0, 100, 100), f2P(100, 100, 10000), f2P(100, 0, 100), f2P(0, 0, 0)];
const f2Left = [f2P(-100, 100, 10000), f2P(-100, 0, 100), f2P(0, 0, 0), f2P(0, 100, 100)];
const f2Right = [f2P(100, -100, 10000), f2P(100, 0, 100), f2P(0, 0, 0), f2P(0, -100, 100)];
const f2Near = [f2P(-100, -100, 10000), f2P(0, -100, 100), { x: 920, y: 1110 }, { x: 830, y: 1065 }, { x: 750, y: 1053 }, { x: 680, y: 1065 }, { x: 600, y: 1095 }, f2P(-100, 0, 100)];
const f2Floor = floorPoly(f2View);
const f2FloorLines = [];
f2FloorS.forEach((s, i) => {
    quadrants.forEach(q => {
        f2FloorLines.push(stroke(arcU.map((u, k) => project(f2View, q[0] * s * u, q[1] * s * arcV[k], 0)), floorColors[i], 2.5, f2Floor, 0.3));
    });
});
spacePanel(830, 830, [].concat(
    wallsAndFloor(f2View, 10000, [0, 5000, 10000]),
    f2FloorLines,
    f2Wedge(1, 1, 'below', f2Back),
    f2Wedge(-1, 1, 'right', f2Left),
    f2Wedge(1, -1, 'left', f2Right),
    f2Wedge(-1, -1, 'below', f2Near)
), spaceLabels('F2 Parameter space', [790, 100], 'F2( x\u2081 , x\u2082 )', [68, 690],
    [['10000', 197, 390], ['5000', 210, 690], ['0', 248, 985]],
    [['100', 225, 1075], ['0', 463, 1215], ['\u2212100', 640, 1355]],
    [['\u2212100', 790, 1365], ['0', 1045, 1255], ['100', 1353, 1145]],
    [420, 1480], [1050, 1490], null));

// F3
const f3View = { cx: 746, cy: 1027, e1: [305, -107.5], e2: [-234, -140], zScale: 605 / 50000 };
const f3Under = [{ x: 1100, y: 975 }, { x: 1000, y: 1005 }, { x: 900, y: 1030 }, { x: 800, y: 1050 }, { x: 700, y: 1055 }, { x: 550, y: 1050 }, { x: 450, y: 1040 }];
const f3Far = [].concat(edge(f3View, 100, false, f3RimX2Top, 0, 8), edge(f3View, 100, true, f3RimX1Top, 7, 0), edge(f3View, -100, false, f3RimX2Low, 7, 7), f3Under, edge(f3View, -100, true, f3RimX1Low, 5, 8));
const f3Near = [].concat(edge(f3View, -100, true, f3RimX1Low, 0, 5), f3Under.slice().reverse(), edge(f3View, -100, false, f3RimX2Low, 7, 1));
const f3Floor = floorPoly(f3View);
const f3Ring = (a, b) => [a - b, b];
spacePanel(1660, 836, [].concat(
    wallsAndFloor(f3View, 50000, [0, 50000]),
    f3ContourR.map((r, i) => stroke(ringA.map((a, k) => project(f3View, r * (a - ringB[k]), r * ringB[k], 0)), floorColors[i], 2.5, f3Floor, 0.4)),
    bowlBands(f3View, f3Ring, f3BandZ, f3BandR, f3Far, f3Near)
), spaceLabels('F3 Parameter space', [748, 108], 'F3( x\u2081 , x\u2082 )', [88, 690],
    [['5', 163, 380], ['0', 163, 990]],
    [['100', 135, 1070], ['0', 395, 1210], ['\u2212100', 590, 1350]],
    [['\u2212100', 750, 1358], ['0', 1025, 1252], ['100', 1358, 1140]],
    [350, 1470], [1030, 1490], [125, 255]));
</script>
</body>
</html>
